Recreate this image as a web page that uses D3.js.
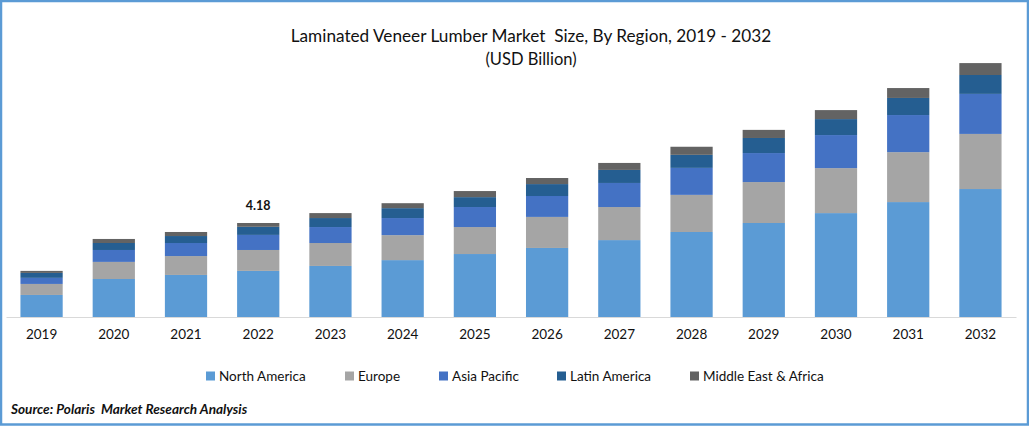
<!DOCTYPE html>
<html>
<head>
<meta charset="utf-8">
<script src="https://cdn.jsdelivr.net/npm/d3@7"></script>
<style>
  html, body { margin: 0; padding: 0; background: #fff; }
  svg { display: block; }
  text { font-family: Lato, "Open Sans", sans-serif; fill: #111; white-space: pre; }
</style>
</head>
<body>
<svg id="chart"></svg>
<script>
// values in USD billion
const years = ["2019","2020","2021","2022","2023","2024","2025","2026","2027","2028","2029","2030","2031","2032"];
const regions = ["North America","Europe","Asia Pacific","Latin America","Middle East & Africa"];
const northAmerica = [0.98,1.69,1.87,2.05,2.27,2.53,2.80,3.07,3.42,3.78,4.18,4.62,5.11,5.69];
const europe = [0.49,0.76,0.84,0.93,1.02,1.11,1.20,1.38,1.47,1.65,1.82,2.00,2.22,2.45];
const asiaPacific = [0.27,0.53,0.58,0.67,0.71,0.76,0.89,0.93,1.07,1.20,1.29,1.47,1.65,1.78];
const latinAmerica = [0.22,0.31,0.31,0.36,0.40,0.44,0.44,0.53,0.58,0.58,0.67,0.71,0.76,0.84];
const middleEastAfrica = [0.09,0.18,0.18,0.17,0.22,0.22,0.27,0.27,0.31,0.36,0.36,0.40,0.44,0.53];
const colors = ["#5b9bd5","#a5a5a5","#4472c4","#255e91","#636363"];
const labelYear = "2022";
const labelText = "4.18";

const width = 1029, height = 426;
const baseY = 317;
const pxPerUnit = 22.49;

const svg = d3.select("#chart").attr("width", width).attr("height", height);

// frame
svg.append("rect")
  .attr("x", 1).attr("y", 1)
  .attr("width", width - 2).attr("height", height - 2.5)
  .attr("fill", "none").attr("stroke", "#5b9bd5").attr("stroke-width", 2.5);

// title
svg.append("text").attr("x", 531).attr("y", 42).attr("text-anchor", "middle")
  .attr("font-size", 17.2).text("Laminated Veneer Lumber Market  Size, By Region, 2019 - 2032");
svg.append("text").attr("x", 531).attr("y", 65).attr("text-anchor", "middle")
  .attr("font-size", 16.5).text("(USD Billion)");

// scales
const x = d3.scaleBand().domain(years).range([6, 1016]).paddingInner(0.415).paddingOuter(0.2);
const y = d3.scaleLinear().domain([0, baseY / pxPerUnit]).range([baseY, 0]);

// stack
const table = years.map((yr, i) => ({
  year: yr,
  "North America": northAmerica[i],
  "Europe": europe[i],
  "Asia Pacific": asiaPacific[i],
  "Latin America": latinAmerica[i],
  "Middle East & Africa": middleEastAfrica[i],
}));
const stacked = d3.stack().keys(regions)(table);

svg.append("g").selectAll("g")
  .data(stacked)
  .join("g")
  .attr("fill", (d, i) => colors[i])
  .selectAll("rect")
  .data((d) => d)
  .join("rect")
  .attr("x", (d) => x(d.data.year))
  .attr("y", (d) => y(d[1]))
  .attr("width", x.bandwidth())
  .attr("height", (d) => y(d[0]) - y(d[1]));

// x axis
const axis = svg.append("g")
  .attr("transform", `translate(0,${baseY})`)
  .call(d3.axisBottom(x).tickSize(0).tickPadding(12));
axis.select(".domain").attr("stroke", "#d9d9d9").attr("stroke-width", 1.2);
axis.selectAll("text").attr("font-size", 13.5).style("font-family", "Lato, sans-serif").attr("fill", "#111");

// the one data label
const labelRow = table.find((d) => d.year === labelYear);
svg.append("text")
  .attr("x", x(labelYear) + x.bandwidth() / 2)
  .attr("y", y(d3.sum(regions, (r) => labelRow[r])) - 13)
  .attr("text-anchor", "middle")
  .attr("font-size", 12.5).attr("font-weight", 700)
  .text(labelText);

// legend
const legendX = [206, 345, 439, 557, 690];
const legend = svg.append("g").selectAll("g")
  .data(regions)
  .join("g")
  .attr("transform", (d, i) => `translate(${legendX[i]},376)`);
legend.append("rect")
  .attr("x", 0).attr("y", -4.5).attr("width", 9).attr("height", 9)
  .attr("fill", (d, i) => colors[i]);
legend.append("text")
  .attr("x", 13).attr("y", 5)
  .attr("font-size", 13.5)
  .text((d) => d);

// source
svg.append("text").attr("x", 11).attr("y", 414)
  .attr("font-size", 13.6).attr("font-weight", 700).attr("font-style", "italic")
  .text("Source: Polaris  Market Research Analysis");
</script>
</body>
</html>
